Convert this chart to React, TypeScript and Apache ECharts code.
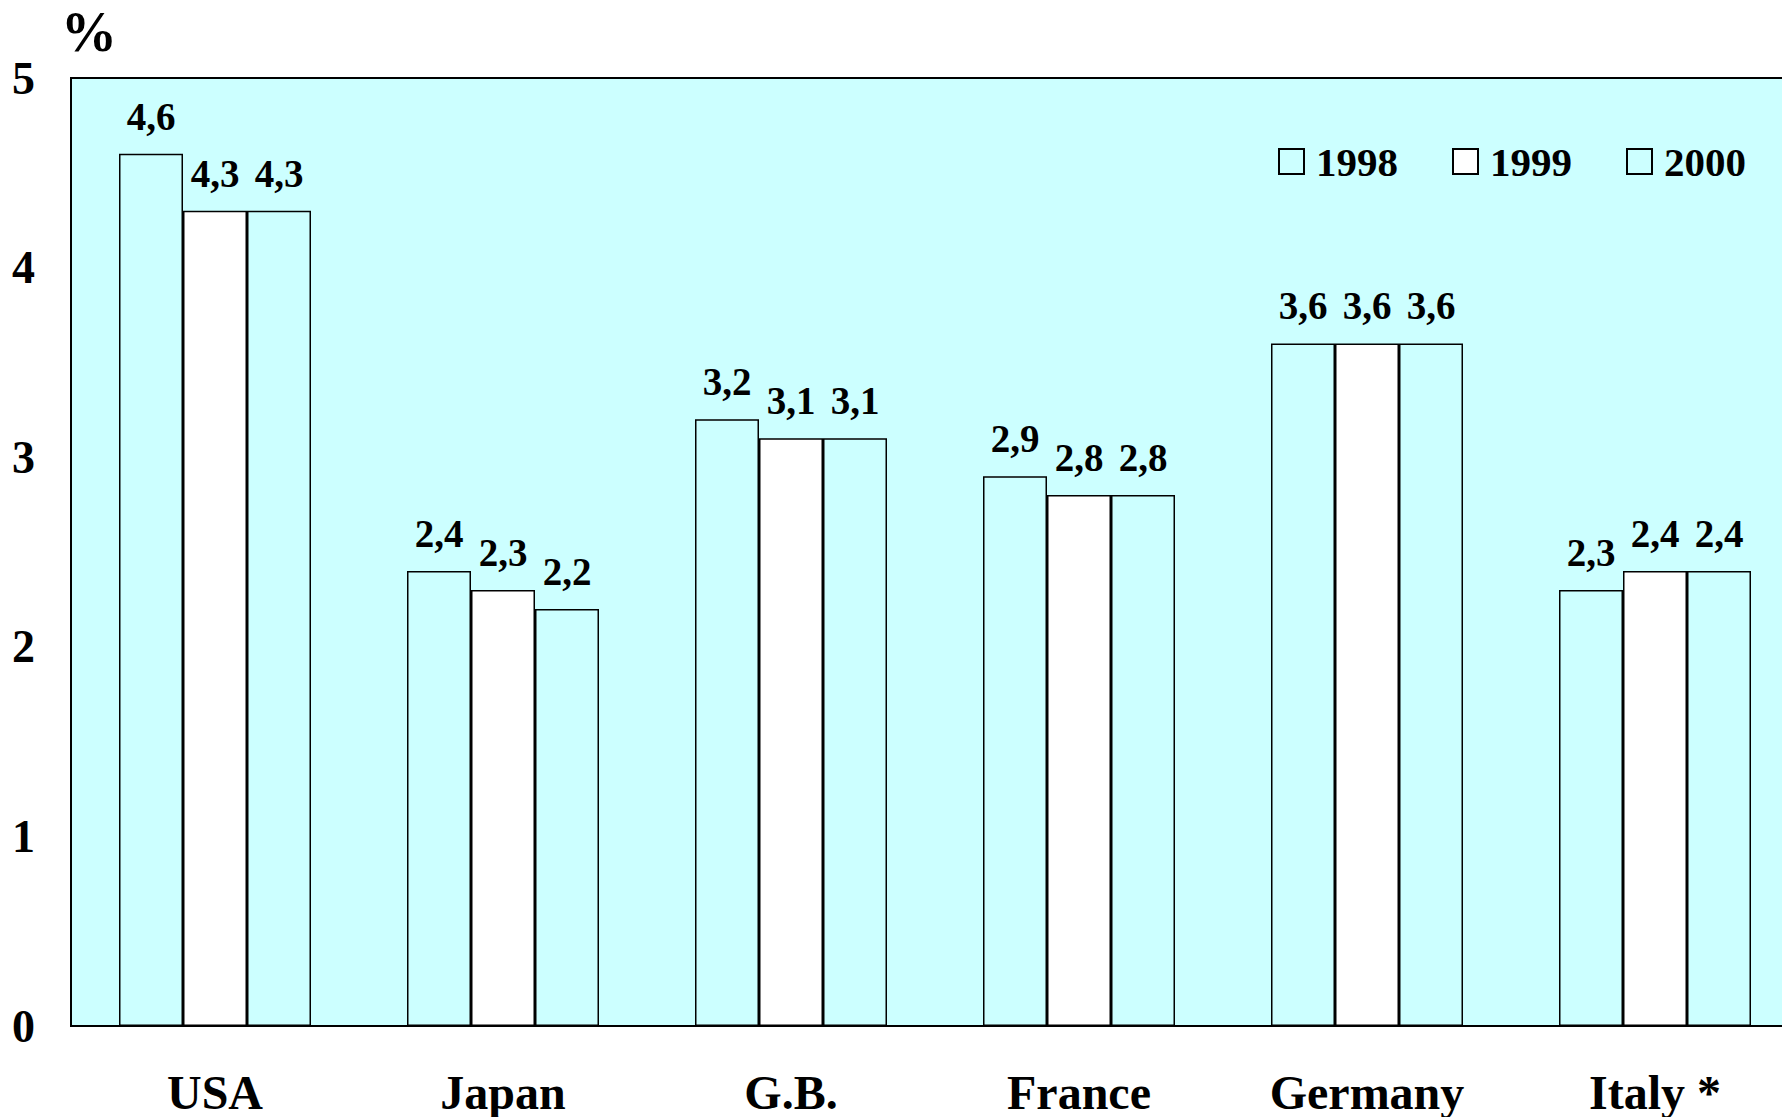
import React, { useEffect, useRef } from "react";
import * as echarts from "echarts";

const categories = ["USA", "Japan", "G.B.", "France", "Germany", "Italy *"];
const years = ["1998", "1999", "2000"];
const values1998 = [4.6, 2.4, 3.2, 2.9, 3.6, 2.3];
const values1999 = [4.3, 2.3, 3.1, 2.8, 3.6, 2.4];
const values2000 = [4.3, 2.2, 3.1, 2.8, 3.6, 2.4];

const CYAN = "#CCFFFF";
const FONT = "'Liberation Serif', 'Times New Roman', serif";

export default function App() {
  const ref = useRef<HTMLDivElement>(null);

  useEffect(() => {
    document.body.style.margin = "0";
    document.body.style.overflow = "hidden";
    document.documentElement.style.overflow = "hidden";
    if (!ref.current) return;
    const chart = echarts.init(ref.current, undefined, { renderer: "svg" });

    const fmt = (p: any) => Number(p.value).toFixed(1).replace(".", ",");
    const mk = (name: string, data: number[], color: string) => ({
      name,
      type: "bar",
      data,
      barWidth: 64,
      barGap: "0%",
      itemStyle: { color, borderColor: "#000", borderWidth: 1.5 },
      label: {
        show: true,
        position: "top",
        distance: 18,
        formatter: fmt,
        color: "#000",
        fontFamily: FONT,
        fontWeight: "bold",
        fontSize: 39,
      },
    });

    chart.setOption({
      animation: false,
      backgroundColor: "#fff",
      grid: {
        left: 71,
        top: 78,
        right: 1,
        bottom: 91,
        show: true,
        backgroundColor: CYAN,
        borderColor: "#000",
        borderWidth: 2,
        containLabel: false,
      },
      legend: {
        data: years,
        left: 1273,
        top: 136,
        itemWidth: 25,
        itemHeight: 25,
        itemGap: 54,
        icon: "rect",
        textStyle: {
          fontFamily: FONT,
          fontWeight: "bold",
          fontSize: 41,
          color: "#000",
          padding: [0, 0, 0, 7],
        },
      },
      xAxis: {
        type: "category",
        data: categories,
        axisLine: { show: true, lineStyle: { color: "#000", width: 2 } },
        axisTick: { show: false },
        axisLabel: {
          margin: 42,
          color: "#000",
          fontFamily: FONT,
          fontWeight: "bold",
          fontSize: 48,
        },
      },
      yAxis: {
        type: "value",
        min: 0,
        max: 5,
        interval: 1,
        name: "%",
        nameLocation: "end",
        nameGap: 18,
        nameTextStyle: {
          color: "#000",
          fontFamily: FONT,
          fontWeight: "bold",
          fontSize: 56,
          align: "left",
          padding: [0, 0, 0, -10],
        },
        splitLine: { show: false },
        axisLine: { show: true, lineStyle: { color: "#000", width: 2 } },
        axisTick: { show: false },
        axisLabel: {
          margin: 36,
          color: "#000",
          fontFamily: FONT,
          fontWeight: "bold",
          fontSize: 46,
        },
      },
      series: [
        mk(years[0], values1998, CYAN),
        mk(years[1], values1999, "#FFFFFF"),
        mk(years[2], values2000, CYAN),
      ],
    });

    return () => chart.dispose();
  }, []);

  return (
    <div
      ref={ref}
      style={{ position: "fixed", left: 0, top: 0, width: 1800, height: 1117 }}
    />
  );
}
